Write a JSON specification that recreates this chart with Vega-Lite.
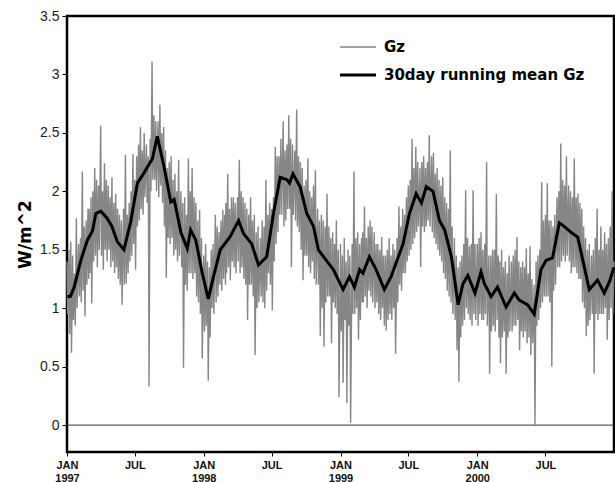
{
  "$schema": "https://vega.github.io/schema/vega-lite/v6.json",
  "width": 547,
  "height": 436,
  "autosize": {"type": "none"},
  "padding": {"left": 67, "top": 16, "right": 1, "bottom": 30},
  "background": "white",
  "config": {
    "view": {"stroke": "#000", "strokeWidth": 2.5},
    "axis": {"domain": false, "grid": false, "labelFont": "Liberation Sans", "tickColor": "#000", "titleFont": "DejaVu Sans"}
  },
  "datasets": {
    "gz": [
      {"d":"1997-01-01","v":1.40},{"d":"1997-01-03","v":0.95},{"d":"1997-01-06","v":1.50},{"d":"1997-01-08","v":0.78},{"d":"1997-01-11","v":1.57},{"d":"1997-01-13","v":0.62},{"d":"1997-01-16","v":1.45},{"d":"1997-01-18","v":0.90},{"d":"1997-01-21","v":1.30},{"d":"1997-01-23","v":0.85},{"d":"1997-01-26","v":1.77},{"d":"1997-01-28","v":1.00},
      {"d":"1997-02-01","v":1.55},{"d":"1997-02-03","v":1.10},{"d":"1997-02-06","v":1.60},{"d":"1997-02-08","v":1.05},{"d":"1997-02-11","v":2.17},{"d":"1997-02-13","v":1.15},{"d":"1997-02-16","v":1.70},{"d":"1997-02-18","v":0.93},{"d":"1997-02-21","v":1.75},{"d":"1997-02-23","v":1.20},{"d":"1997-02-26","v":1.85},{"d":"1997-02-28","v":1.25},
      {"d":"1997-03-01","v":1.85},{"d":"1997-03-03","v":1.30},{"d":"1997-03-06","v":1.95},{"d":"1997-03-08","v":1.04},{"d":"1997-03-11","v":2.00},{"d":"1997-03-13","v":1.40},{"d":"1997-03-16","v":2.20},{"d":"1997-03-18","v":1.45},{"d":"1997-03-21","v":2.10},{"d":"1997-03-23","v":1.35},{"d":"1997-03-26","v":2.05},{"d":"1997-03-28","v":1.50},
      {"d":"1997-04-01","v":2.56},{"d":"1997-04-03","v":1.45},{"d":"1997-04-06","v":2.00},{"d":"1997-04-08","v":1.33},{"d":"1997-04-11","v":2.24},{"d":"1997-04-13","v":1.50},{"d":"1997-04-16","v":2.10},{"d":"1997-04-18","v":1.40},{"d":"1997-04-21","v":2.05},{"d":"1997-04-23","v":1.50},{"d":"1997-04-26","v":1.95},{"d":"1997-04-28","v":1.35},
      {"d":"1997-05-01","v":2.12},{"d":"1997-05-03","v":1.40},{"d":"1997-05-06","v":1.90},{"d":"1997-05-08","v":1.30},{"d":"1997-05-11","v":1.98},{"d":"1997-05-13","v":1.35},{"d":"1997-05-16","v":1.85},{"d":"1997-05-18","v":1.25},{"d":"1997-05-21","v":1.80},{"d":"1997-05-23","v":1.20},{"d":"1997-05-26","v":1.75},{"d":"1997-05-28","v":1.03},
      {"d":"1997-06-01","v":1.85},{"d":"1997-06-03","v":1.20},{"d":"1997-06-06","v":2.31},{"d":"1997-06-08","v":1.21},{"d":"1997-06-11","v":1.80},{"d":"1997-06-13","v":1.30},{"d":"1997-06-16","v":1.90},{"d":"1997-06-18","v":1.40},{"d":"1997-06-21","v":2.00},{"d":"1997-06-23","v":1.45},{"d":"1997-06-26","v":2.32},{"d":"1997-06-28","v":1.55},
      {"d":"1997-07-01","v":2.10},{"d":"1997-07-03","v":1.33},{"d":"1997-07-06","v":2.30},{"d":"1997-07-08","v":1.70},{"d":"1997-07-11","v":2.40},{"d":"1997-07-13","v":1.75},{"d":"1997-07-16","v":2.55},{"d":"1997-07-18","v":1.85},{"d":"1997-07-21","v":2.35},{"d":"1997-07-23","v":1.80},{"d":"1997-07-26","v":2.50},{"d":"1997-07-28","v":1.95},
      {"d":"1997-08-01","v":2.40},{"d":"1997-08-03","v":1.90},{"d":"1997-08-06","v":2.30},{"d":"1997-08-08","v":0.33},{"d":"1997-08-11","v":2.45},{"d":"1997-08-13","v":2.00},{"d":"1997-08-16","v":3.11},{"d":"1997-08-18","v":2.10},{"d":"1997-08-21","v":2.65},{"d":"1997-08-23","v":2.10},{"d":"1997-08-26","v":2.60},{"d":"1997-08-28","v":2.00},
      {"d":"1997-09-01","v":2.60},{"d":"1997-09-03","v":1.95},{"d":"1997-09-06","v":2.74},{"d":"1997-09-08","v":2.05},{"d":"1997-09-11","v":2.50},{"d":"1997-09-13","v":1.90},{"d":"1997-09-16","v":2.55},{"d":"1997-09-18","v":1.70},{"d":"1997-09-21","v":2.35},{"d":"1997-09-23","v":1.26},{"d":"1997-09-26","v":2.20},{"d":"1997-09-28","v":1.60},
      {"d":"1997-10-01","v":2.25},{"d":"1997-10-03","v":1.55},{"d":"1997-10-06","v":2.30},{"d":"1997-10-08","v":1.60},{"d":"1997-10-11","v":2.10},{"d":"1997-10-13","v":1.45},{"d":"1997-10-16","v":2.15},{"d":"1997-10-18","v":1.50},{"d":"1997-10-21","v":2.00},{"d":"1997-10-23","v":1.40},{"d":"1997-10-26","v":2.27},{"d":"1997-10-28","v":1.45},
      {"d":"1997-11-01","v":2.00},{"d":"1997-11-03","v":1.35},{"d":"1997-11-06","v":1.90},{"d":"1997-11-08","v":0.49},{"d":"1997-11-11","v":1.95},{"d":"1997-11-13","v":1.20},{"d":"1997-11-16","v":1.80},{"d":"1997-11-18","v":1.15},{"d":"1997-11-21","v":2.28},{"d":"1997-11-23","v":1.30},{"d":"1997-11-26","v":2.00},{"d":"1997-11-28","v":1.30},
      {"d":"1997-12-01","v":2.20},{"d":"1997-12-03","v":1.25},{"d":"1997-12-06","v":1.95},{"d":"1997-12-08","v":1.30},{"d":"1997-12-11","v":1.90},{"d":"1997-12-13","v":1.10},{"d":"1997-12-16","v":1.75},{"d":"1997-12-18","v":1.05},{"d":"1997-12-21","v":1.84},{"d":"1997-12-23","v":0.95},{"d":"1997-12-26","v":1.60},{"d":"1997-12-28","v":0.57},
      {"d":"1998-01-01","v":1.45},{"d":"1998-01-03","v":0.80},{"d":"1998-01-06","v":1.55},{"d":"1998-01-08","v":0.85},{"d":"1998-01-11","v":1.40},{"d":"1998-01-13","v":0.38},{"d":"1998-01-16","v":1.35},{"d":"1998-01-18","v":0.75},{"d":"1998-01-21","v":1.50},{"d":"1998-01-23","v":1.00},{"d":"1998-01-26","v":1.55},{"d":"1998-01-28","v":0.95},
      {"d":"1998-02-01","v":1.80},{"d":"1998-02-03","v":1.05},{"d":"1998-02-06","v":1.70},{"d":"1998-02-08","v":1.10},{"d":"1998-02-11","v":1.65},{"d":"1998-02-13","v":1.20},{"d":"1998-02-16","v":1.75},{"d":"1998-02-18","v":1.15},{"d":"1998-02-21","v":1.84},{"d":"1998-02-23","v":1.25},{"d":"1998-02-26","v":1.80},{"d":"1998-02-28","v":1.20},
      {"d":"1998-03-01","v":1.90},{"d":"1998-03-03","v":1.30},{"d":"1998-03-06","v":2.15},{"d":"1998-03-08","v":1.35},{"d":"1998-03-11","v":1.85},{"d":"1998-03-13","v":1.24},{"d":"1998-03-16","v":1.95},{"d":"1998-03-18","v":1.40},{"d":"1998-03-21","v":1.95},{"d":"1998-03-23","v":1.35},{"d":"1998-03-26","v":1.90},{"d":"1998-03-28","v":1.30},
      {"d":"1998-04-01","v":1.95},{"d":"1998-04-03","v":1.40},{"d":"1998-04-06","v":2.27},{"d":"1998-04-08","v":1.30},{"d":"1998-04-11","v":2.00},{"d":"1998-04-13","v":1.35},{"d":"1998-04-16","v":1.95},{"d":"1998-04-18","v":1.25},{"d":"1998-04-21","v":1.90},{"d":"1998-04-23","v":1.20},{"d":"1998-04-26","v":1.85},{"d":"1998-04-28","v":0.90},
      {"d":"1998-05-01","v":1.80},{"d":"1998-05-03","v":1.20},{"d":"1998-05-06","v":1.95},{"d":"1998-05-08","v":1.20},{"d":"1998-05-11","v":1.75},{"d":"1998-05-13","v":1.10},{"d":"1998-05-16","v":1.80},{"d":"1998-05-18","v":0.60},{"d":"1998-05-21","v":1.65},{"d":"1998-05-23","v":1.00},{"d":"1998-05-26","v":1.70},{"d":"1998-05-28","v":1.05},
      {"d":"1998-06-01","v":1.60},{"d":"1998-06-03","v":1.10},{"d":"1998-06-06","v":1.75},{"d":"1998-06-08","v":1.05},{"d":"1998-06-11","v":1.70},{"d":"1998-06-13","v":1.00},{"d":"1998-06-16","v":2.10},{"d":"1998-06-18","v":1.15},{"d":"1998-06-21","v":1.80},{"d":"1998-06-23","v":1.30},{"d":"1998-06-26","v":1.90},{"d":"1998-06-28","v":1.20},
      {"d":"1998-07-01","v":1.85},{"d":"1998-07-03","v":0.98},{"d":"1998-07-06","v":1.95},{"d":"1998-07-08","v":1.40},{"d":"1998-07-11","v":2.38},{"d":"1998-07-13","v":1.55},{"d":"1998-07-16","v":2.30},{"d":"1998-07-18","v":1.65},{"d":"1998-07-21","v":2.30},{"d":"1998-07-23","v":1.80},{"d":"1998-07-26","v":2.45},{"d":"1998-07-28","v":1.80},
      {"d":"1998-08-01","v":2.60},{"d":"1998-08-03","v":1.70},{"d":"1998-08-06","v":2.35},{"d":"1998-08-08","v":1.75},{"d":"1998-08-11","v":2.40},{"d":"1998-08-13","v":1.85},{"d":"1998-08-16","v":2.65},{"d":"1998-08-18","v":1.85},{"d":"1998-08-21","v":2.45},{"d":"1998-08-23","v":1.35},{"d":"1998-08-26","v":2.40},{"d":"1998-08-28","v":1.80},
      {"d":"1998-09-01","v":2.35},{"d":"1998-09-03","v":1.75},{"d":"1998-09-06","v":2.70},{"d":"1998-09-08","v":1.70},{"d":"1998-09-11","v":2.30},{"d":"1998-09-13","v":1.65},{"d":"1998-09-16","v":2.25},{"d":"1998-09-18","v":1.50},{"d":"1998-09-21","v":2.20},{"d":"1998-09-23","v":1.24},{"d":"1998-09-26","v":2.05},{"d":"1998-09-28","v":1.45},
      {"d":"1998-10-01","v":2.10},{"d":"1998-10-03","v":1.45},{"d":"1998-10-06","v":2.28},{"d":"1998-10-08","v":1.35},{"d":"1998-10-11","v":2.00},{"d":"1998-10-13","v":1.30},{"d":"1998-10-16","v":1.95},{"d":"1998-10-18","v":1.40},{"d":"1998-10-21","v":2.05},{"d":"1998-10-23","v":1.25},{"d":"1998-10-26","v":2.18},{"d":"1998-10-28","v":1.20},
      {"d":"1998-11-01","v":1.85},{"d":"1998-11-03","v":1.20},{"d":"1998-11-06","v":1.75},{"d":"1998-11-08","v":0.76},{"d":"1998-11-11","v":1.80},{"d":"1998-11-13","v":1.00},{"d":"1998-11-16","v":1.75},{"d":"1998-11-18","v":0.67},{"d":"1998-11-21","v":1.70},{"d":"1998-11-23","v":1.05},{"d":"1998-11-26","v":1.98},{"d":"1998-11-28","v":1.10},
      {"d":"1998-12-01","v":1.70},{"d":"1998-12-03","v":1.10},{"d":"1998-12-06","v":1.60},{"d":"1998-12-08","v":0.70},{"d":"1998-12-11","v":1.65},{"d":"1998-12-13","v":1.05},{"d":"1998-12-16","v":1.55},{"d":"1998-12-18","v":1.00},{"d":"1998-12-21","v":1.75},{"d":"1998-12-23","v":0.95},{"d":"1998-12-26","v":1.50},{"d":"1998-12-28","v":0.24},
      {"d":"1999-01-01","v":1.55},{"d":"1999-01-03","v":0.80},{"d":"1999-01-06","v":1.45},{"d":"1999-01-08","v":0.36},{"d":"1999-01-11","v":1.60},{"d":"1999-01-13","v":0.90},{"d":"1999-01-16","v":1.40},{"d":"1999-01-18","v":0.19},{"d":"1999-01-21","v":1.50},{"d":"1999-01-23","v":0.85},{"d":"1999-01-26","v":1.45},{"d":"1999-01-28","v":0.02},
      {"d":"1999-02-01","v":1.55},{"d":"1999-02-03","v":0.95},{"d":"1999-02-06","v":2.17},{"d":"1999-02-08","v":0.95},{"d":"1999-02-11","v":1.60},{"d":"1999-02-13","v":1.00},{"d":"1999-02-16","v":1.65},{"d":"1999-02-18","v":0.73},{"d":"1999-02-21","v":1.55},{"d":"1999-02-23","v":0.90},{"d":"1999-02-26","v":1.60},{"d":"1999-02-28","v":1.05},
      {"d":"1999-03-01","v":1.65},{"d":"1999-03-03","v":1.05},{"d":"1999-03-06","v":1.87},{"d":"1999-03-08","v":1.10},{"d":"1999-03-11","v":1.60},{"d":"1999-03-13","v":1.00},{"d":"1999-03-16","v":1.70},{"d":"1999-03-18","v":1.15},{"d":"1999-03-21","v":1.75},{"d":"1999-03-23","v":1.10},{"d":"1999-03-26","v":1.70},{"d":"1999-03-28","v":1.05},
      {"d":"1999-04-01","v":1.65},{"d":"1999-04-03","v":1.00},{"d":"1999-04-06","v":1.55},{"d":"1999-04-08","v":1.05},{"d":"1999-04-11","v":1.55},{"d":"1999-04-13","v":0.95},{"d":"1999-04-16","v":1.50},{"d":"1999-04-18","v":0.90},{"d":"1999-04-21","v":1.61},{"d":"1999-04-23","v":1.00},{"d":"1999-04-26","v":1.45},{"d":"1999-04-28","v":0.85},
      {"d":"1999-05-01","v":1.45},{"d":"1999-05-03","v":0.81},{"d":"1999-05-06","v":1.50},{"d":"1999-05-08","v":0.90},{"d":"1999-05-11","v":1.60},{"d":"1999-05-13","v":0.95},{"d":"1999-05-16","v":1.45},{"d":"1999-05-18","v":0.90},{"d":"1999-05-21","v":1.55},{"d":"1999-05-23","v":1.00},{"d":"1999-05-26","v":1.50},{"d":"1999-05-28","v":0.61},
      {"d":"1999-06-01","v":1.60},{"d":"1999-06-03","v":1.05},{"d":"1999-06-06","v":1.87},{"d":"1999-06-08","v":1.20},{"d":"1999-06-11","v":1.70},{"d":"1999-06-13","v":1.15},{"d":"1999-06-16","v":1.85},{"d":"1999-06-18","v":1.30},{"d":"1999-06-21","v":1.80},{"d":"1999-06-23","v":1.30},{"d":"1999-06-26","v":1.95},{"d":"1999-06-28","v":1.40},
      {"d":"1999-07-01","v":2.05},{"d":"1999-07-03","v":1.45},{"d":"1999-07-06","v":2.10},{"d":"1999-07-08","v":1.50},{"d":"1999-07-11","v":2.45},{"d":"1999-07-13","v":1.55},{"d":"1999-07-16","v":2.20},{"d":"1999-07-18","v":1.60},{"d":"1999-07-21","v":2.38},{"d":"1999-07-23","v":1.65},{"d":"1999-07-26","v":2.25},{"d":"1999-07-28","v":1.70},
      {"d":"1999-08-01","v":2.20},{"d":"1999-08-03","v":1.35},{"d":"1999-08-06","v":2.25},{"d":"1999-08-08","v":1.70},{"d":"1999-08-11","v":2.30},{"d":"1999-08-13","v":1.65},{"d":"1999-08-16","v":2.20},{"d":"1999-08-18","v":1.70},{"d":"1999-08-21","v":2.25},{"d":"1999-08-23","v":1.75},{"d":"1999-08-26","v":2.48},{"d":"1999-08-28","v":1.70},
      {"d":"1999-09-01","v":2.30},{"d":"1999-09-03","v":1.65},{"d":"1999-09-06","v":2.33},{"d":"1999-09-08","v":1.60},{"d":"1999-09-11","v":2.15},{"d":"1999-09-13","v":1.55},{"d":"1999-09-16","v":2.20},{"d":"1999-09-18","v":1.50},{"d":"1999-09-21","v":2.10},{"d":"1999-09-23","v":1.45},{"d":"1999-09-26","v":2.05},{"d":"1999-09-28","v":1.40},
      {"d":"1999-10-01","v":2.12},{"d":"1999-10-03","v":1.30},{"d":"1999-10-06","v":1.95},{"d":"1999-10-08","v":1.25},{"d":"1999-10-11","v":1.90},{"d":"1999-10-13","v":1.15},{"d":"1999-10-16","v":1.85},{"d":"1999-10-18","v":1.10},{"d":"1999-10-21","v":2.35},{"d":"1999-10-23","v":1.05},{"d":"1999-10-26","v":1.70},{"d":"1999-10-28","v":0.95},
      {"d":"1999-11-01","v":1.60},{"d":"1999-11-03","v":0.90},{"d":"1999-11-06","v":1.45},{"d":"1999-11-08","v":0.64},{"d":"1999-11-11","v":1.35},{"d":"1999-11-13","v":0.37},{"d":"1999-11-16","v":1.40},{"d":"1999-11-18","v":0.75},{"d":"1999-11-21","v":1.45},{"d":"1999-11-23","v":0.85},{"d":"1999-11-26","v":1.55},{"d":"1999-11-28","v":0.90},
      {"d":"1999-12-01","v":2.01},{"d":"1999-12-03","v":1.00},{"d":"1999-12-06","v":1.60},{"d":"1999-12-08","v":0.95},{"d":"1999-12-11","v":1.53},{"d":"1999-12-13","v":0.90},{"d":"1999-12-16","v":1.55},{"d":"1999-12-18","v":0.85},{"d":"1999-12-21","v":2.01},{"d":"1999-12-23","v":0.95},{"d":"1999-12-26","v":1.55},{"d":"1999-12-28","v":0.90},
      {"d":"2000-01-01","v":1.55},{"d":"2000-01-03","v":0.85},{"d":"2000-01-06","v":1.60},{"d":"2000-01-08","v":0.95},{"d":"2000-01-11","v":1.65},{"d":"2000-01-13","v":0.90},{"d":"2000-01-16","v":1.50},{"d":"2000-01-18","v":0.90},{"d":"2000-01-21","v":1.55},{"d":"2000-01-23","v":0.95},{"d":"2000-01-26","v":2.25},{"d":"2000-01-28","v":0.85},
      {"d":"2000-02-01","v":1.45},{"d":"2000-02-03","v":0.44},{"d":"2000-02-06","v":1.45},{"d":"2000-02-08","v":0.80},{"d":"2000-02-11","v":1.50},{"d":"2000-02-13","v":0.85},{"d":"2000-02-16","v":1.50},{"d":"2000-02-18","v":0.80},{"d":"2000-02-21","v":1.98},{"d":"2000-02-23","v":0.90},{"d":"2000-02-26","v":1.45},{"d":"2000-02-28","v":0.75},
      {"d":"2000-03-01","v":1.40},{"d":"2000-03-03","v":0.53},{"d":"2000-03-06","v":1.50},{"d":"2000-03-08","v":0.75},{"d":"2000-03-11","v":1.35},{"d":"2000-03-13","v":0.80},{"d":"2000-03-16","v":1.40},{"d":"2000-03-18","v":0.44},{"d":"2000-03-21","v":1.30},{"d":"2000-03-23","v":0.75},{"d":"2000-03-26","v":1.45},{"d":"2000-03-28","v":0.80},
      {"d":"2000-04-01","v":1.40},{"d":"2000-04-03","v":0.80},{"d":"2000-04-06","v":1.45},{"d":"2000-04-08","v":0.85},{"d":"2000-04-11","v":1.50},{"d":"2000-04-13","v":0.85},{"d":"2000-04-16","v":1.61},{"d":"2000-04-18","v":0.90},{"d":"2000-04-21","v":1.40},{"d":"2000-04-23","v":0.64},{"d":"2000-04-26","v":1.35},{"d":"2000-04-28","v":0.80},
      {"d":"2000-05-01","v":1.40},{"d":"2000-05-03","v":0.75},{"d":"2000-05-06","v":1.35},{"d":"2000-05-08","v":0.80},{"d":"2000-05-11","v":1.51},{"d":"2000-05-13","v":0.70},{"d":"2000-05-16","v":1.30},{"d":"2000-05-18","v":0.75},{"d":"2000-05-21","v":1.53},{"d":"2000-05-23","v":0.60},{"d":"2000-05-26","v":1.25},{"d":"2000-05-28","v":0.70},
      {"d":"2000-06-01","v":1.20},{"d":"2000-06-03","v":0.00},{"d":"2000-06-06","v":1.40},{"d":"2000-06-08","v":0.85},{"d":"2000-06-11","v":1.45},{"d":"2000-06-13","v":0.90},{"d":"2000-06-16","v":1.50},{"d":"2000-06-18","v":1.00},{"d":"2000-06-21","v":2.08},{"d":"2000-06-23","v":1.05},{"d":"2000-06-26","v":1.75},{"d":"2000-06-28","v":1.10},
      {"d":"2000-07-01","v":1.80},{"d":"2000-07-03","v":1.10},{"d":"2000-07-06","v":2.07},{"d":"2000-07-08","v":1.10},{"d":"2000-07-11","v":1.75},{"d":"2000-07-13","v":1.05},{"d":"2000-07-16","v":1.75},{"d":"2000-07-18","v":0.50},{"d":"2000-07-21","v":1.70},{"d":"2000-07-23","v":1.15},{"d":"2000-07-26","v":1.80},{"d":"2000-07-28","v":1.20},
      {"d":"2000-08-01","v":1.95},{"d":"2000-08-03","v":1.35},{"d":"2000-08-06","v":2.00},{"d":"2000-08-08","v":1.35},{"d":"2000-08-11","v":2.41},{"d":"2000-08-13","v":1.40},{"d":"2000-08-16","v":2.10},{"d":"2000-08-18","v":1.45},{"d":"2000-08-21","v":2.05},{"d":"2000-08-23","v":1.40},{"d":"2000-08-26","v":2.30},{"d":"2000-08-28","v":1.45},
      {"d":"2000-09-01","v":2.05},{"d":"2000-09-03","v":1.40},{"d":"2000-09-06","v":2.00},{"d":"2000-09-08","v":1.30},{"d":"2000-09-11","v":1.95},{"d":"2000-09-13","v":1.35},{"d":"2000-09-16","v":2.28},{"d":"2000-09-18","v":1.35},{"d":"2000-09-21","v":1.95},{"d":"2000-09-23","v":1.30},{"d":"2000-09-26","v":1.98},{"d":"2000-09-28","v":1.25},
      {"d":"2000-10-01","v":1.90},{"d":"2000-10-03","v":1.25},{"d":"2000-10-06","v":1.85},{"d":"2000-10-08","v":1.05},{"d":"2000-10-11","v":1.70},{"d":"2000-10-13","v":1.00},{"d":"2000-10-16","v":1.60},{"d":"2000-10-18","v":0.76},{"d":"2000-10-21","v":1.50},{"d":"2000-10-23","v":0.85},{"d":"2000-10-26","v":1.55},{"d":"2000-10-28","v":0.90},
      {"d":"2000-11-01","v":1.45},{"d":"2000-11-03","v":0.95},{"d":"2000-11-06","v":1.50},{"d":"2000-11-08","v":0.44},{"d":"2000-11-11","v":1.60},{"d":"2000-11-13","v":0.95},{"d":"2000-11-16","v":1.85},{"d":"2000-11-18","v":0.90},{"d":"2000-11-21","v":1.50},{"d":"2000-11-23","v":0.95},{"d":"2000-11-26","v":1.70},{"d":"2000-11-28","v":0.95},
      {"d":"2000-12-01","v":1.50},{"d":"2000-12-03","v":0.95},{"d":"2000-12-06","v":1.65},{"d":"2000-12-08","v":1.00},{"d":"2000-12-11","v":1.55},{"d":"2000-12-13","v":0.73},{"d":"2000-12-16","v":1.60},{"d":"2000-12-18","v":0.90},{"d":"2000-12-21","v":1.70},{"d":"2000-12-23","v":1.00},{"d":"2000-12-26","v":2.00},{"d":"2000-12-28","v":0.95},{"d":"2000-12-31","v":1.40}
    ],
    "mean": [
      {"d":"1997-01-02","v":1.10},{"d":"1997-01-10","v":1.10},{"d":"1997-01-20","v":1.18},{"d":"1997-02-07","v":1.41},{"d":"1997-02-24","v":1.58},{"d":"1997-03-10","v":1.66},{"d":"1997-03-19","v":1.81},{"d":"1997-04-01","v":1.83},{"d":"1997-04-18","v":1.77},{"d":"1997-05-01","v":1.70},{"d":"1997-05-15","v":1.57},{"d":"1997-06-02","v":1.50},{"d":"1997-06-20","v":1.74},{"d":"1997-07-08","v":2.07},{"d":"1997-07-26","v":2.16},{"d":"1997-08-17","v":2.28},{"d":"1997-08-30","v":2.47},{"d":"1997-09-17","v":2.21},{"d":"1997-10-05","v":1.91},{"d":"1997-10-14","v":1.93},{"d":"1997-11-01","v":1.65},{"d":"1997-11-18","v":1.51},{"d":"1997-11-27","v":1.67},{"d":"1997-12-11","v":1.58},{"d":"1997-12-28","v":1.30},
      {"d":"1998-01-13","v":1.08},{"d":"1998-01-27","v":1.27},{"d":"1998-02-14","v":1.50},{"d":"1998-03-12","v":1.61},{"d":"1998-04-04","v":1.75},{"d":"1998-04-17","v":1.64},{"d":"1998-05-09","v":1.55},{"d":"1998-05-27","v":1.37},{"d":"1998-06-18","v":1.44},{"d":"1998-07-06","v":1.81},{"d":"1998-07-24","v":2.12},{"d":"1998-08-11","v":2.10},{"d":"1998-08-18","v":2.07},{"d":"1998-08-27","v":2.15},{"d":"1998-09-15","v":2.04},{"d":"1998-10-03","v":1.81},{"d":"1998-10-21","v":1.70},{"d":"1998-11-03","v":1.50},{"d":"1998-11-26","v":1.40},{"d":"1998-12-13","v":1.33},{"d":"1998-12-31","v":1.21},
      {"d":"1999-01-08","v":1.16},{"d":"1999-01-25","v":1.27},{"d":"1999-02-07","v":1.18},{"d":"1999-02-21","v":1.33},{"d":"1999-03-02","v":1.30},{"d":"1999-03-19","v":1.44},{"d":"1999-04-06","v":1.33},{"d":"1999-04-28","v":1.16},{"d":"1999-05-16","v":1.27},{"d":"1999-06-17","v":1.55},{"d":"1999-07-04","v":1.81},{"d":"1999-07-22","v":1.98},{"d":"1999-08-05","v":1.90},{"d":"1999-08-18","v":2.04},{"d":"1999-09-05","v":2.00},{"d":"1999-09-22","v":1.75},{"d":"1999-10-06","v":1.67},{"d":"1999-10-24","v":1.44},{"d":"1999-11-11","v":1.03},{"d":"1999-11-24","v":1.21},{"d":"1999-12-07","v":1.28},{"d":"1999-12-26","v":1.13},
      {"d":"2000-01-11","v":1.31},{"d":"2000-01-20","v":1.21},{"d":"2000-02-07","v":1.10},{"d":"2000-02-24","v":1.18},{"d":"2000-03-18","v":1.01},{"d":"2000-04-09","v":1.13},{"d":"2000-04-22","v":1.07},{"d":"2000-05-14","v":1.03},{"d":"2000-06-01","v":0.95},{"d":"2000-06-19","v":1.33},{"d":"2000-07-03","v":1.41},{"d":"2000-07-20","v":1.43},{"d":"2000-08-07","v":1.73},{"d":"2000-08-20","v":1.70},{"d":"2000-09-07","v":1.65},{"d":"2000-09-25","v":1.61},{"d":"2000-10-13","v":1.35},{"d":"2000-10-26","v":1.16},{"d":"2000-11-17","v":1.24},{"d":"2000-12-05","v":1.13},{"d":"2000-12-19","v":1.23},{"d":"2000-12-31","v":1.35}
    ]
  },
  "encoding": {
    "x": {
      "field": "d", "type": "temporal",
      "scale": {"type": "utc", "domain": [{"year": 1997, "month": 1, "date": 1, "utc": true}, {"year": 2000, "month": 12, "date": 31, "utc": true}], "nice": false},
      "axis": {
        "title": null,
        "tickCount": {"interval": "month", "step": 6},
        "labelExpr": "utcmonth(datum.value) == 0 ? ['JAN', '' + utcyear(datum.value)] : 'JUL'",
        "labelFont": "Liberation Sans", "labelFontWeight": "bold", "labelFontSize": 11, "labelColor": "#111",
        "labelLineHeight": 13, "tickSize": 4, "labelPadding": 3, "labelFlush": false, "labelOverlap": false
      }
    },
    "y": {
      "field": "v", "type": "quantitative",
      "scale": {"domain": [-0.23, 3.5], "nice": false, "zero": false},
      "axis": {
        "title": "W/m^2", "titleFont": "DejaVu Sans", "titleFontWeight": "bold", "titleFontSize": 17, "titleColor": "#000", "titlePadding": 5,
        "values": [0, 0.5, 1, 1.5, 2, 2.5, 3, 3.5], "format": "~g",
        "labelFont": "Liberation Sans", "labelFontSize": 14, "labelColor": "#222", "tickSize": 5, "labelPadding": 3
      }
    }
  },
  "layer": [
    {
      "data": {"values": [{"z": 0}]},
      "mark": {"type": "rule", "color": "#333", "strokeWidth": 1},
      "encoding": {"y": {"field": "z", "type": "quantitative"}, "x": null}
    },
    {
      "data": {"name": "gz"},
      "mark": {"type": "line", "interpolate": "linear"},
      "encoding": {
        "color": {"datum": "Gz", "scale": {"domain": ["Gz", "30day running mean Gz"], "range": ["#868686", "#000000"]},
          "legend": {"title": null, "orient": "none", "legendX": 271, "legendY": 12, "symbolType": "stroke", "symbolSize": 1300, "labelFont": "DejaVu Sans", "labelFontWeight": "bold", "labelFontSize": 15, "labelColor": "#000", "labelLimit": 0, "rowPadding": -4, "labelOffset": 6}},
        "strokeWidth": {"datum": "Gz", "scale": {"domain": ["Gz", "30day running mean Gz"], "range": [1.4, 3]}, "legend": null}
      }
    },
    {
      "data": {"name": "mean"},
      "mark": {"type": "line", "interpolate": "linear"},
      "encoding": {
        "color": {"datum": "30day running mean Gz"},
        "strokeWidth": {"datum": "30day running mean Gz"}
      }
    }
  ]
}
